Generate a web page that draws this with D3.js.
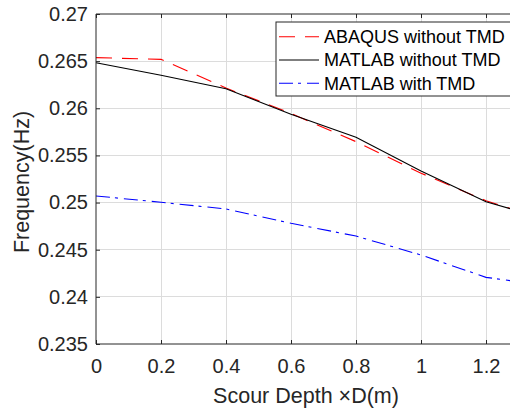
<!DOCTYPE html>
<html>
<head>
<meta charset="utf-8">
<script src="https://cdn.jsdelivr.net/npm/d3@7"></script>
<style>
  html, body { margin: 0; padding: 0; background: #fff; }
  svg { display: block; }
  text { font-family: "Liberation Sans", Arial, Helvetica, sans-serif; }
</style>
</head>
<body>
<svg id="chart" width="510" height="409"></svg>
<script>
// ---- data ----
const depth = [0, 0.2, 0.4, 0.6, 0.8, 1.0, 1.2, 1.3];
const abaqusNoTMD = [0.26537, 0.26519, 0.26215, 0.25945, 0.25646, 0.25312, 0.25020, 0.24910];
const matlabNoTMD = [0.26483, 0.26350, 0.26208, 0.25937, 0.25692, 0.25335, 0.25009, 0.24910];
const matlabTMD   = [0.25070, 0.25003, 0.24932, 0.24780, 0.24645, 0.24444, 0.24207, 0.24160];
const xTicks = [0, 0.2, 0.4, 0.6, 0.8, 1, 1.2];
const yTicks = [0.235, 0.24, 0.245, 0.25, 0.255, 0.26, 0.265, 0.27];
const seriesNames = ["ABAQUS without TMD", "MATLAB without TMD", "MATLAB with TMD"];

(function () {
// ---- layout ----
const padL = 96, padT = 14, padB = 344;
const x = d3.scaleLinear().domain([0, 1.4]).range([padL, padL + 1.4 * 325]);
const y = d3.scaleLinear().domain([0.235, 0.27]).range([padB, padT]);
const svg = d3.select("#chart");
const axisColor = "#262626";
const gridColor = "#dcdcdc";

// grid
const g = svg.append("g");
g.selectAll("line.vx").data(xTicks.slice(1)).enter().append("line")
  .attr("x1", d => x(d)).attr("x2", d => x(d)).attr("y1", padT).attr("y2", padB)
  .attr("stroke", gridColor).attr("stroke-width", 1).attr("shape-rendering", "crispEdges");
g.selectAll("line.hy").data(yTicks.slice(1, -1)).enter().append("line")
  .attr("x1", padL).attr("x2", 510).attr("y1", d => y(d)).attr("y2", d => y(d))
  .attr("stroke", gridColor).attr("stroke-width", 1).attr("shape-rendering", "crispEdges");

// lines
const line = d3.line().x((d, i) => x(depth[i])).y(d => y(d));
const styles = [
  { data: abaqusNoTMD, color: "#ff0000", dash: "16,10" },
  { data: matlabNoTMD, color: "#000000", dash: null },
  { data: matlabTMD,   color: "#0000ff", dash: "14,5,3,6" }
];
styles.forEach(s => {
  svg.append("path").datum(s.data).attr("d", line)
    .attr("fill", "none").attr("stroke", s.color).attr("stroke-width", 1.1)
    .attr("stroke-dasharray", s.dash);
});

// axes (box)
const xAxisB = d3.axisBottom(x).tickValues(xTicks).tickSize(-4).tickPadding(15)
  .tickFormat(d => d3.format("~g")(d));
const yAxisL = d3.axisLeft(y).tickValues(yTicks).tickSize(-4).tickPadding(8)
  .tickFormat(d => d3.format("~g")(d));
const xAxisT = d3.axisTop(x).tickValues(xTicks).tickSize(-4).tickFormat("");

function styleAxis(sel, fs) {
  sel.selectAll("path").attr("stroke", axisColor).attr("stroke-width", 1);
  sel.selectAll("line").attr("stroke", axisColor).attr("stroke-width", 1);
  sel.selectAll("text").attr("fill", axisColor).style("font-size", fs + "px")
    .style("font-family", '"Liberation Sans", Arial, sans-serif');
}
const gx = svg.append("g").attr("transform", `translate(0,${padB})`).call(xAxisB);
styleAxis(gx, 20);
gx.select(".domain").attr("d", `M${padL},0H${x(1.4)}`);
const gy = svg.append("g").attr("transform", `translate(${padL},0)`).call(yAxisL);
styleAxis(gy, 20);
gy.select(".domain").attr("d", `M0,${padT}V${padB}`);
const gt = svg.append("g").attr("transform", `translate(0,${padT})`).call(xAxisT);
styleAxis(gt, 20);
gt.select(".domain").attr("d", `M${padL},0H${x(1.4)}`);

// axis labels
svg.append("text").attr("x", 306).attr("y", 403).attr("text-anchor", "middle")
  .attr("fill", axisColor).style("font-size", "21.5px").text("Scour Depth ×D(m)");
svg.append("text").attr("transform", `translate(29,182) rotate(-90)`).attr("text-anchor", "middle")
  .attr("fill", axisColor).style("font-size", "21.5px").text("Frequency(Hz)");

// legend
const lg = svg.append("g");
lg.append("rect").attr("x", 276).attr("y", 22).attr("width", 260).attr("height", 74)
  .attr("fill", "#fff").attr("stroke", axisColor).attr("stroke-width", 1);
const rowsY = [36.7, 60, 83.3];
styles.forEach((s, i) => {
  lg.append("line").attr("x1", 279).attr("x2", 319).attr("y1", rowsY[i]).attr("y2", rowsY[i])
    .attr("stroke", s.color).attr("stroke-width", 1.1).attr("stroke-dasharray", s.dash);
  lg.append("text").attr("x", 324).attr("y", rowsY[i]).attr("dy", "0.35em")
    .attr("fill", "#000").style("font-size", "18px").text(seriesNames[i]);
});
})();
</script>
</body>
</html>
